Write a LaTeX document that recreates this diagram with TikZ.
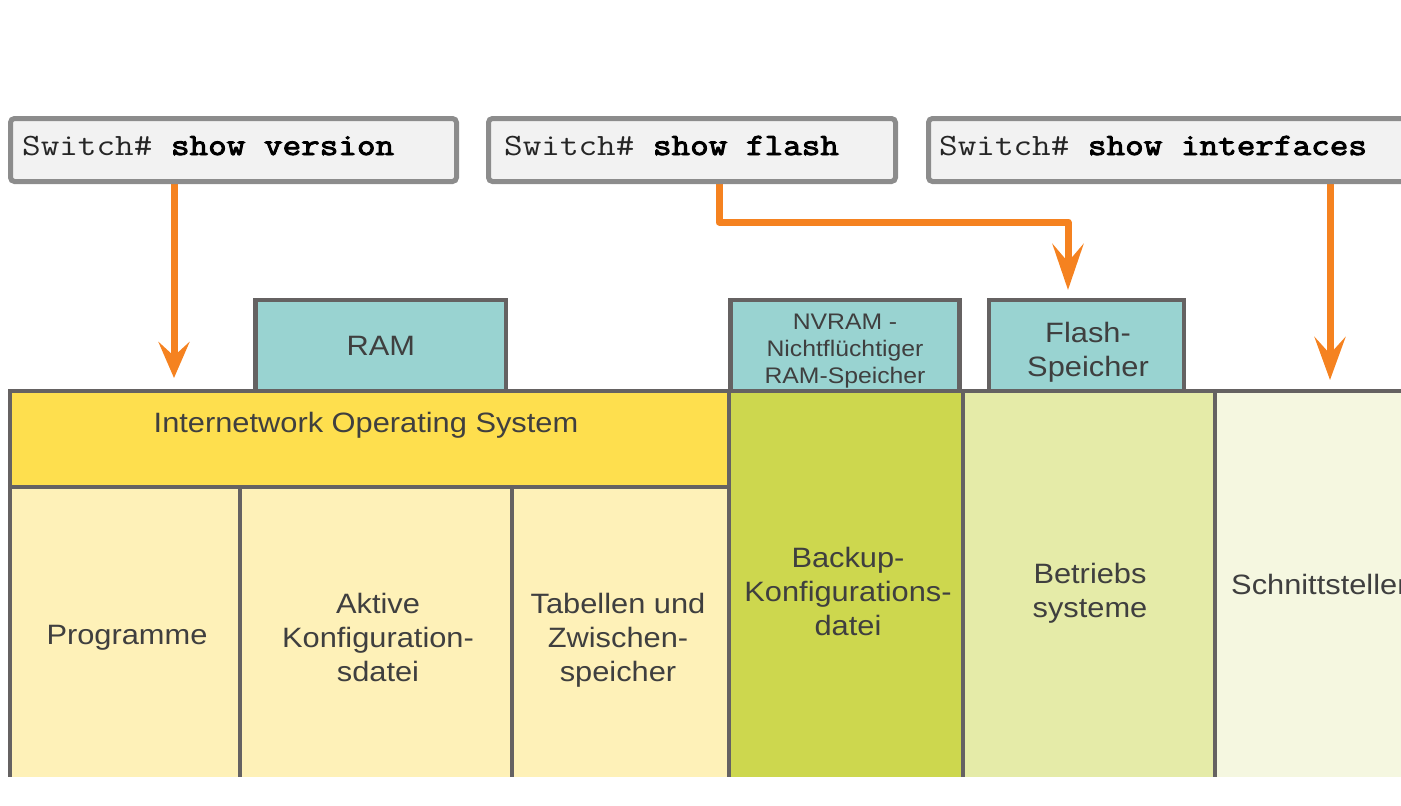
\documentclass[tikz,border=0pt]{standalone}
\usepackage{fontspec}
\setmainfont{Liberation Sans}
\setmonofont{Liberation Mono}
\newfontfamily\lab[FakeStretch=1.1]{Liberation Sans}
\newfontfamily\cmdreg[FakeStretch=1.165]{Latin Modern Mono}
\newfontfamily\cmdbold[FakeStretch=1.165,FakeBold=3]{Latin Modern Mono}
\usetikzlibrary{arrows.meta}
\definecolor{cmdfill}{HTML}{F2F2F2}
\definecolor{cmdborder}{HTML}{8C8C8C}
\definecolor{orangec}{HTML}{F58220}
\definecolor{tealc}{HTML}{99D3D1}
\definecolor{bordc}{HTML}{656262}
\definecolor{iosc}{HTML}{FEDF4E}
\definecolor{lightyel}{HTML}{FEF1B8}
\definecolor{backupc}{HTML}{CDD74E}
\definecolor{betrc}{HTML}{E5EBA8}
\definecolor{schnc}{HTML}{F5F7E0}
\definecolor{txtc}{HTML}{3F3F3F}
\tikzset{
  cmdbox/.style={draw=cmdborder, line width=5pt, fill=cmdfill, rounded corners=4pt,
    minimum height=63pt, inner sep=0pt},
  cmdtext/.style={font=\cmdreg\fontsize{31}{36}\selectfont, text=black!85, inner sep=0pt, anchor=base west},
  tealbox/.style={draw=bordc, line width=4.5pt, fill=tealc, minimum height=91pt, inner sep=0pt},
  cell/.style={draw=bordc, line width=4.5pt, inner sep=0pt},
  lbl/.style={font=\lab\fontsize{28}{34}\selectfont, text=txtc, align=center, inner sep=0pt},
  smalllbl/.style={font=\lab\fontsize{22.5}{27}\selectfont, text=txtc, align=center, inner sep=0pt},
  orarrow/.style={draw=orangec, line width=7pt, line join=round}
}
\newcommand{\cmdb}[1]{{\cmdbold\color{black}#1}}
\begin{document}
\begin{tikzpicture}[x=1pt,y=-1pt]
\useasboundingbox (0,0) rectangle (1401,806);
\begin{scope}
\clip (0,0) rectangle (1401,776);
% memory cells
\node[cell, fill=iosc, minimum width=719pt, minimum height=96pt] (ios) at (369.5,439) {};
\node[cell, fill=lightyel, minimum width=230pt, minimum height=313pt] (prog) at (125,643.5) {};
\node[cell, fill=lightyel, minimum width=272pt, minimum height=313pt] (akt) at (376,643.5) {};
\node[cell, fill=lightyel, minimum width=217pt, minimum height=313pt] (tab) at (620.5,643.5) {};
\node[cell, fill=backupc, minimum width=234pt, minimum height=409pt] (backup) at (846,595.5) {};
\node[cell, fill=betrc, minimum width=252pt, minimum height=409pt] (betr) at (1089,595.5) {};
\node[cell, fill=schnc, minimum width=225pt, minimum height=409pt] (schn) at (1327.5,595.5) {};
% labels in cells
\node[lbl, anchor=base] (tios) at (366,432) {Internetwork Operating System};
\node[lbl, anchor=base] (tprog) at (127,644) {Programme};
\node[lbl] (takt) at (378,637) {Aktive\\Konfiguration-\\sdatei};
\node[lbl] (ttab) at (618,640) {Tabellen und\\Zwischen-\\speicher};
\node[lbl] (tbackup) at (848,591) {Backup-\\Konfigurations-\\datei};
\node[lbl] (tbetr) at (1090,593) {Betriebs\\systeme};
\node[lbl, anchor=base west] (tschn) at (1231,594) {Schnittstellen};
\end{scope}
% memory type boxes
\node[tealbox, minimum width=250.5pt] (ram) at (380.75,345.5) {};
\node[tealbox, minimum width=229pt] (nvram) at (845,345.5) {};
\node[tealbox, minimum width=195pt] (flash) at (1086.5,345.5) {};
\node[lbl, anchor=base] (tram) at (380.75,355) {RAM};
\node[smalllbl] (tnvram) at (845,351) {NVRAM -\\Nichtflüchtiger\\RAM-Speicher};
\node[lbl] (tflash) at (1088,352) {Flash-\\Speicher};
% arrow targets
\coordinate (a1) at (174,378);
\coordinate (a2k) at (719,222);
\coordinate (a2) at (1068,290);
\coordinate (a3) at (1330,380);
% command boxes (named, used as arrow sources)
\path (233.5,150) node[minimum width=446pt, minimum height=63pt, inner sep=0pt] (cmd1) {};
\path (692,150) node[minimum width=407pt, minimum height=63pt, inner sep=0pt] (cmd2) {};
\path (1189,150) node[minimum width=521pt, minimum height=63pt, inner sep=0pt] (cmd3) {};
% arrows
\draw[orarrow, -{Stealth[length=36pt,width=31pt,inset=14pt]}] (cmd1.south -| a1) -- (a1);
\draw[orarrow, -{Stealth[length=46pt,width=31pt,inset=18pt]}] (cmd2.south -| a2k) -- (a2k) -| (a2);
\draw[orarrow, -{Stealth[length=43pt,width=31pt,inset=17pt]}] (cmd3.south -| a3) -- (a3);
% command box frames over arrow starts
\begin{scope}
\clip (0,0) rectangle (1401,806);
\node[cmdbox, minimum width=446pt] (cmd1f) at (cmd1) {};
\node[cmdbox, minimum width=407pt] (cmd2f) at (cmd2) {};
\node[cmdbox, minimum width=521pt] (cmd3f) at (cmd3) {};
\end{scope}
\node[cmdtext] (t1) at (22,155) {Switch\# \cmdb{show version}};
\node[cmdtext] (t2) at (504,155) {Switch\# \cmdb{show flash}};
\node[cmdtext] (t3) at (939,155) {Switch\# \cmdb{show interfaces}};
\end{tikzpicture}
\end{document}
